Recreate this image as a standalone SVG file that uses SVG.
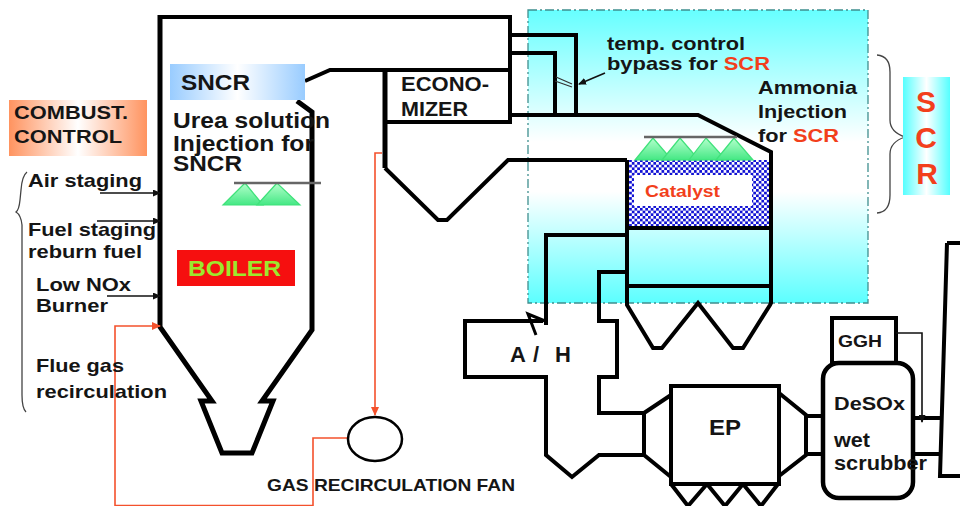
<svg xmlns="http://www.w3.org/2000/svg" width="960" height="506" viewBox="0 0 960 506">
<style>
text{font-family:"Liberation Sans",Arial,sans-serif;font-weight:bold;fill:#151515}
.r{fill:#f23f1c}
.w{fill:none;stroke:#000;stroke-width:4;stroke-linejoin:miter}
.b{fill:none;stroke:#000;stroke-width:5;stroke-linejoin:miter}
.t{fill:none;stroke:#111;stroke-width:1.6}
.o{fill:none;stroke:#f4512c;stroke-width:1.6}
.g{fill:url(#green);stroke:#3fe27a;stroke-width:1.2}
.bar{stroke:#666;stroke-width:2.5}
.brace{fill:none;stroke:#444;stroke-width:1.3}
</style>
<defs>
<linearGradient id="sky" x1="0" y1="0" x2="0" y2="1"><stop offset="0" stop-color="#66ffff"/><stop offset=".45" stop-color="#fff"/><stop offset=".62" stop-color="#fff"/><stop offset="1" stop-color="#5cffff"/></linearGradient>
<linearGradient id="sncr"><stop offset="0" stop-color="#99ccff"/><stop offset=".5" stop-color="#fff"/><stop offset="1" stop-color="#99ccff"/></linearGradient>
<linearGradient id="comb"><stop offset="0" stop-color="#ff935f"/><stop offset=".5" stop-color="#fff"/><stop offset="1" stop-color="#ff935f"/></linearGradient>
<linearGradient id="scr"><stop offset="0" stop-color="#55ffff"/><stop offset=".5" stop-color="#fff"/><stop offset="1" stop-color="#55ffff"/></linearGradient>
<linearGradient id="green" x1="0" y1="0" x2="0" y2="1"><stop offset="0" stop-color="#b4ffcc"/><stop offset="1" stop-color="#44e884"/></linearGradient>
<pattern id="check" width="5.4" height="5.4" patternUnits="userSpaceOnUse"><rect width="5.4" height="5.4" fill="#fff"/><rect width="2.7" height="2.7" fill="#1212d4"/><rect x="2.7" y="2.7" width="2.7" height="2.7" fill="#1212d4"/></pattern>
<marker id="ab" markerWidth="8" markerHeight="7" refX="7" refY="3.5" orient="auto" markerUnits="userSpaceOnUse"><path d="M0 0L8 3.500L0 7z" fill="#111"/></marker>
<marker id="ao" markerWidth="9" markerHeight="8" refX="8" refY="4" orient="auto" markerUnits="userSpaceOnUse"><path d="M0 0L9 4L0 8z" fill="#f4512c"/></marker>
</defs>
<rect width="960" height="506" fill="#fff"/>
<g id="scr-zone"><rect x="528" y="10" width="340" height="293" fill="url(#sky)" stroke="#3f8f8f" stroke-width="1.3" stroke-dasharray="9 3 2 3"/></g>
<g id="catalyst"><rect x="627" y="160" width="144" height="68" fill="url(#check)"/><rect x="634" y="175" width="118" height="31" fill="#fff"/><text class="r" x="645" y="197" font-size="16" textLength="75" lengthAdjust="spacingAndGlyphs">Catalyst</text></g>
<g id="connectors">
<path class="w" d="M160 17H510V122H385M305 81L330 70H510M510 35H576V115M510 53H555V115M510 115H698L771 152V303L770 305L743 348H733L698 303L662 348H653L627 305V160"/>
<path class="b" d="M385 70V168"/>
<path class="w" d="M385 168L438 220H447L508 160H627"/>
<path class="w" d="M627 228H771M627 286H771"/>
<path class="b" d="M160 15V327L212 401H201L222 453H252L273 401H262L312 330V112L297 101"/>
<path class="w" d="M627 235H546V325M627 272H599V321H617V377H599V413H644V455H599L572 477L546 455V377H465V321H543"/>
<path class="w" d="M644 413L671 395M644 455L671 477M671 386H779V484H671V384M671 484L688 506M707 484L688 506M707 484L725 506M743 484L725 506M743 484L761 506M778 484L761 506"/>
<path class="w" d="M779 393L806 415V455L779 476M806 416H823M806 454H823M913 418H940M913 454H940M947 243L940 476H960M947 243H960"/>
<path d="M545 321L528 314L536 335" fill="none" stroke="#000" stroke-width="3"/>
<path d="M556 77L572 84M555 81L572 87" stroke="#333" stroke-width="1.2" fill="none"/>
<path class="t" d="M605 73L579 84" marker-end="url(#ab)"/>
<path class="t" d="M100 193H160" marker-end="url(#ab)"/>
<path class="t" d="M97 221H160" marker-end="url(#ab)"/>
<path class="t" d="M107 296H160" marker-end="url(#ab)"/>
<path class="o" d="M382 153H375V415" marker-end="url(#ao)"/>
<path class="o" d="M348 438H313V505.500H115V326H160" marker-end="url(#ao)"/>
<path class="brace" d="M27 172Q22 176 21 190L20 200Q19 210 16 212Q21 215 22 225V395Q22 408 26 412"/>
<path class="brace" d="M877 55Q890 56 890 72V120Q890 132 905 137Q890 142 890 154V195Q890 212 877 213"/>
</g>
<g id="fan"><ellipse cx="375" cy="439" rx="27" ry="22" fill="none" stroke="#000" stroke-width="2.500"/><text x="267" y="491" font-size="16.500" textLength="248" lengthAdjust="spacingAndGlyphs">GAS RECIRCULATION FAN</text></g>
<g id="combust"><rect x="9" y="100" width="138" height="56" fill="url(#comb)"/><text x="14" y="119" font-size="19" textLength="114" lengthAdjust="spacingAndGlyphs">COMBUST.</text><text x="14" y="143" font-size="19" textLength="108" lengthAdjust="spacingAndGlyphs">CONTROL</text></g>
<g id="sncr-box"><rect x="170" y="64" width="135" height="36" fill="url(#sncr)"/><text x="181" y="90" font-size="22" textLength="69" lengthAdjust="spacingAndGlyphs">SNCR</text></g>
<g id="sncr-text"><text x="173" y="128" font-size="22" textLength="157" lengthAdjust="spacingAndGlyphs">Urea solution</text><text x="173" y="151" font-size="22" textLength="141" lengthAdjust="spacingAndGlyphs">Injection for</text><text x="173" y="171" font-size="22" textLength="69" lengthAdjust="spacingAndGlyphs">SNCR</text></g>
<g id="sncr-spray"><path class="g" d="M245 183L223 205H263z"/><path class="g" d="M277 183L257 205H300z"/><path class="bar" d="M234 183H321"/></g>
<g id="boiler"><rect x="177" y="250" width="118" height="36" fill="#f60f0f"/><text x="188" y="276" font-size="22" textLength="93" lengthAdjust="spacingAndGlyphs" style="fill:#9ce82e">BOILER</text></g>
<g id="ggh"><rect x="832" y="318" width="64" height="45" fill="#fff" stroke="#000" stroke-width="4"/><text x="838" y="347" font-size="16" textLength="44" lengthAdjust="spacingAndGlyphs">GGH</text></g>
<g id="scrubber"><rect x="823" y="363" width="90" height="135" rx="16" fill="#fff" stroke="#000" stroke-width="4.500"/><text x="834" y="410" font-size="19" textLength="71" lengthAdjust="spacingAndGlyphs">DeSOx</text><text x="834" y="447" font-size="20" textLength="36" lengthAdjust="spacingAndGlyphs">wet</text><text x="834" y="470" font-size="20" textLength="93" lengthAdjust="spacingAndGlyphs">scrubber</text></g>
<path class="t" d="M896 333H922V422" marker-end="url(#ab)"/>
<g id="labels">
<text x="28" y="187" font-size="19" textLength="114" lengthAdjust="spacingAndGlyphs">Air staging</text>
<text x="28" y="236" font-size="19" textLength="128" lengthAdjust="spacingAndGlyphs">Fuel staging</text>
<text x="28" y="258" font-size="19" textLength="114" lengthAdjust="spacingAndGlyphs">reburn fuel</text>
<text x="36" y="291" font-size="19" textLength="95" lengthAdjust="spacingAndGlyphs">Low NOx</text>
<text x="36" y="312" font-size="19" textLength="72" lengthAdjust="spacingAndGlyphs">Burner</text>
<text x="36" y="372" font-size="19" textLength="88" lengthAdjust="spacingAndGlyphs">Flue gas</text>
<text x="36" y="398" font-size="19" textLength="131" lengthAdjust="spacingAndGlyphs">recirculation</text>
<text x="401" y="91" font-size="20" textLength="88" lengthAdjust="spacingAndGlyphs">ECONO-</text>
<text x="401" y="116" font-size="20" textLength="67" lengthAdjust="spacingAndGlyphs">MIZER</text>
<text x="607" y="50" font-size="19" textLength="138" lengthAdjust="spacingAndGlyphs">temp. control</text>
<text x="607" y="70" font-size="19" textLength="163" lengthAdjust="spacingAndGlyphs">bypass for <tspan class="r">SCR</tspan></text>
<text x="758" y="94" font-size="19" textLength="99" lengthAdjust="spacingAndGlyphs">Ammonia</text>
<text x="758" y="118" font-size="19" textLength="89" lengthAdjust="spacingAndGlyphs">Injection</text>
<text x="758" y="142" font-size="19" textLength="81" lengthAdjust="spacingAndGlyphs">for <tspan class="r">SCR</tspan></text>
<text x="510 528 533 550 555" y="362" font-size="22">A / H</text>
<text x="709" y="435" font-size="22" textLength="32" lengthAdjust="spacingAndGlyphs">EP</text>
</g>
<g id="ammonia-spray"><path class="g" d="M653 138L635 160H672z"/><path class="g" d="M680 138L662 160H699z"/><path class="g" d="M706 138L689 160H726z"/><path class="g" d="M734 138L716 160H753z"/><path class="bar" d="M644 137H737"/></g>
<g id="scr-box"><rect x="903" y="77" width="47" height="118" fill="url(#scr)"/><text class="r" x="926" y="112" font-size="30" text-anchor="middle">S</text><text class="r" x="926" y="148" font-size="30" text-anchor="middle">C</text><text class="r" x="927" y="184" font-size="30" text-anchor="middle">R</text></g>
</svg>
